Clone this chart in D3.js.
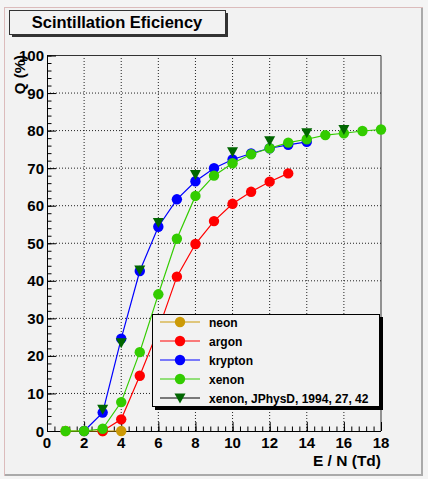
<!DOCTYPE html>
<html><head><meta charset="utf-8">
<script src="https://cdn.jsdelivr.net/npm/d3@7"></script>
<style>
html,body{margin:0;padding:0;background:#f4f4f4;}
svg{display:block;font-family:"Liberation Sans",Arial,sans-serif;font-weight:bold;}
</style></head><body>
<svg id="c" width="428" height="479"></svg>
<script>
// ---- data ----
const neonX = [1, 2, 3, 4];
const neonY = [0, 0, 0, 0];
const argonX = [3, 4, 5, 6, 7, 8, 9, 10, 11, 12, 13];
const argonY = [0, 3.1, 14.7, 27, 41.1, 49.8, 55.9, 60.5, 63.7, 66.4, 68.6];
const kryptonX = [2, 3, 4, 5, 6, 7, 8, 9, 10, 11, 12, 13, 14];
const kryptonY = [0, 4.9, 24.6, 42.6, 54.4, 61.7, 66.5, 70.0, 72.3, 73.9, 75.3, 76.2, 77.0];
const xenonX = [1, 2, 3, 4, 5, 6, 7, 8, 9, 10, 11, 12, 13, 14, 15, 16, 17, 18];
const xenonY = [0, 0, 0.6, 7.7, 21.0, 36.4, 51.2, 62.6, 68.0, 71.3, 73.7, 75.3, 76.8, 77.7, 78.8, 79.3, 79.9, 80.3];
const jphysX = [3, 4, 5, 6, 8, 10, 12, 14, 16];
const jphysY = [5.8, 23.5, 42.9, 55.5, 68.3, 74.4, 77.3, 79.4, 80.3];
const seriesNames = ["neon", "argon", "krypton", "xenon", "xenon, JPhysD, 1994, 27, 42"];
const seriesColors = ["#cc9a06", "#ff0000", "#0000ff", "#33cc00", "#006600"];
const xTicks = [0, 2, 4, 6, 8, 10, 12, 14, 16, 18];
const yTicks = [0, 10, 20, 30, 40, 50, 60, 70, 80, 90, 100];
const titleText = "Scintillation Eficiency";
const xTitle = "E / N (Td)";
const yTitle = "Q (%)";

const svg = d3.select("#c");
// canvas
svg.append("rect").attr("x",4).attr("y",7).attr("width",419).attr("height",469).attr("fill","#aaaaaa");
svg.append("rect").attr("x",4).attr("y",7).attr("width",417).attr("height",467).attr("fill","#f2f2f2");
svg.append("line").attr("x1",4).attr("x2",423).attr("y1",7.5).attr("y2",7.5).attr("stroke","#dcbcbc");
svg.append("line").attr("x1",4.5).attr("x2",4.5).attr("y1",7).attr("y2",476).attr("stroke","#dcbcbc");

const x = d3.scaleLinear().domain([0,18]).range([47,381]);
const y = d3.scaleLinear().domain([0,100]).range([431,55.5]);

// grid
const g = svg.append("g");
g.selectAll("line.gx").data(xTicks.filter(t=>t>0&&t<18)).join("line")
  .attr("x1",d=>x(d)).attr("x2",d=>x(d)).attr("y1",y(0)).attr("y2",y(100))
  .attr("stroke","#222").attr("stroke-dasharray","1,2");
g.selectAll("line.gy").data(yTicks.filter(t=>t>0&&t<100)).join("line")
  .attr("x1",x(0)).attr("x2",x(18)).attr("y1",d=>y(d)).attr("y2",d=>y(d))
  .attr("stroke","#222").attr("stroke-dasharray","1,2");

// frame top/right
svg.append("path").attr("d",`M${x(0)},${y(100)}H${x(18)}V${y(0)}`).attr("fill","none").attr("stroke","#333");

// axes
const xAxisMinor = d3.axisTop(x).tickValues(d3.range(0,18.01,0.4)).tickSize(4.5).tickFormat("");
const xAxisMajor = d3.axisTop(x).tickValues(xTicks).tickSize(9).tickFormat("");
const yAxisMinor = d3.axisRight(y).tickValues(d3.range(0,100.01,2)).tickSize(4.5).tickFormat("");
const yAxisMajor = d3.axisRight(y).tickValues(yTicks).tickSize(9).tickFormat("");
[xAxisMinor,xAxisMajor].forEach(a=>{
  const ga = svg.append("g").attr("transform",`translate(0,${y(0)})`).call(a);
  ga.select(".domain").attr("d",`M${x(0)},0.5H${x(18)}`).attr("stroke","#000");
  ga.selectAll(".tick line").attr("stroke","#000");
});
[yAxisMinor,yAxisMajor].forEach(a=>{
  const ga = svg.append("g").attr("transform",`translate(${x(0)},0)`).call(a);
  ga.select(".domain").attr("d",`M0.5,${y(0)}V${y(100)}`).attr("stroke","#000");
  ga.selectAll(".tick line").attr("stroke","#000");
});
// tick labels
svg.append("g").selectAll("text").data(xTicks).join("text")
  .attr("x",d=>x(d)).attr("y",448).attr("text-anchor","middle")
  .attr("font-size",15).text(d=>d);
svg.append("g").selectAll("text").data(yTicks).join("text")
  .attr("x",44).attr("y",d=>y(d)+5.5).attr("text-anchor","end")
  .attr("font-size",15).text(d=>d);

// axis titles
svg.append("text").attr("x",381).attr("y",466).attr("text-anchor","end").attr("font-size",15.5).text(xTitle);
svg.append("text").attr("transform",`translate(25,55) rotate(-90)`).attr("text-anchor","end").attr("font-size",15).text(yTitle);

// series
const series = [
  {xs:neonX, ys:neonY, line:true, shape:"circle"},
  {xs:argonX, ys:argonY, line:true, shape:"circle"},
  {xs:kryptonX, ys:kryptonY, line:true, shape:"circle"},
  {xs:xenonX, ys:xenonY, line:true, shape:"circle"},
  {xs:jphysX, ys:jphysY, line:false, shape:"tri"}
];
const triPath = "M-5.5,-4.5L5.5,-4.5L0,5.5Z";
const lineGen = d3.line().x(d=>x(d[0])).y(d=>y(d[1]));
series.forEach((s,i)=>{
  const pts = s.xs.map((v,j)=>[v,s.ys[j]]);
  const sg = svg.append("g");
  if (s.line) sg.append("path").attr("d",lineGen(pts)).attr("fill","none").attr("stroke",seriesColors[i]).attr("stroke-width",1.2);
  if (s.shape==="circle") {
    sg.selectAll("circle").data(pts).join("circle").attr("cx",d=>x(d[0])).attr("cy",d=>y(d[1])).attr("r",5.2).attr("fill",seriesColors[i]);
  } else {
    sg.selectAll("path.m").data(pts).join("path").attr("class","m").attr("transform",d=>`translate(${x(d[0])},${y(d[1])})`).attr("d",triPath).attr("fill",seriesColors[i]);
  }
});

// legend
const lg = svg.append("g");
lg.append("rect").attr("x",155).attr("y",317).attr("width",228).attr("height",93).attr("fill","#000");
lg.append("rect").attr("x",152.5).attr("y",314.5).attr("width",227).attr("height",92).attr("fill","#f2f2f2").attr("stroke","#000");
seriesNames.forEach((n,i)=>{
  const cy = 322 + i*19;
  lg.append("line").attr("x1",160).attr("x2",200).attr("y1",cy).attr("y2",cy).attr("stroke", i===4?"#000":seriesColors[i]).attr("stroke-width",1.2);
  if (i<4) lg.append("circle").attr("cx",180).attr("cy",cy).attr("r",5.2).attr("fill",seriesColors[i]);
  else lg.append("path").attr("transform",`translate(180,${cy})`).attr("d",triPath).attr("fill",seriesColors[i]);
  lg.append("text").attr("x",209).attr("y",cy+4.5).attr("font-size",12).text(n);
});

// title box
svg.append("rect").attr("x",12).attr("y",13).attr("width",216).attr("height",24).attr("fill","#333");
svg.append("rect").attr("x",9.5).attr("y",10.5).attr("width",216).attr("height",24).attr("fill","#f2f2f2").attr("stroke","#333");
svg.append("text").attr("x",117).attr("y",28).attr("text-anchor","middle").attr("font-size",16.5).text(titleText);
</script>
</body></html>
